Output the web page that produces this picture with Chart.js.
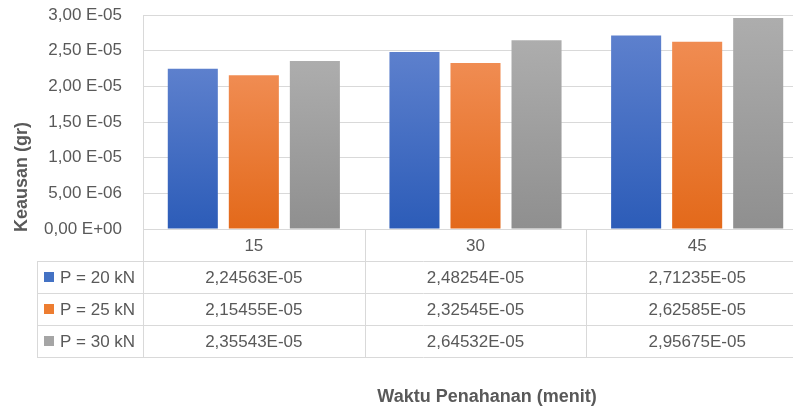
<!DOCTYPE html>
<html>
<head>
<meta charset="utf-8">
<script src="https://cdn.jsdelivr.net/npm/chart.js@4.4.1/dist/chart.umd.min.js"></script>
<style>
  html, body { margin: 0; padding: 0; background: #fff; overflow: hidden; }
  #wrap { width: 793px; height: 408px; overflow: hidden; }
  canvas { display: block; }
</style>
</head>
<body>
<div id="wrap"><canvas id="chart" width="810" height="408"></canvas></div>
<script>
// data
const categories = ['15', '30', '45'];
const seriesNames = ['P = 20 kN', 'P = 25 kN', 'P = 30 kN'];
const p20 = [2.24563e-5, 2.48254e-5, 2.71235e-5];
const p25 = [2.15455e-5, 2.32545e-5, 2.62585e-5];
const p30 = [2.35543e-5, 2.64532e-5, 2.95675e-5];
const yTickLabels = ['0,00 E+00', '5,00 E-06', '1,00 E-05', '1,50 E-05', '2,00 E-05', '2,50 E-05', '3,00 E-05'];
const xTitle = 'Waktu Penahanan (menit)';
const yTitle = 'Keausan (gr)';

const FONT = "'Liberation Sans', Arial, sans-serif";
const TEXT = '#595959';
const LINE = '#d9d9d9';

// Excel-like vertical gradient per bar
function barFill(top, bottom) {
  return (ctx) => {
    const chart = ctx.chart;
    if (!chart.chartArea || ctx.raw == null) return bottom;
    const y = chart.scales.y;
    const g = chart.ctx.createLinearGradient(0, y.getPixelForValue(ctx.raw), 0, y.getPixelForValue(0));
    g.addColorStop(0, top);
    g.addColorStop(1, bottom);
    return g;
  };
}

const swatches = ['#4472c4', '#ed7d31', '#a5a5a5'];

function fmtValue(v) {
  return (v * 1e5).toFixed(5).replace('.', ',') + 'E-05';
}

// data table + axis titles under the plot
const tablePlugin = {
  id: 'dataTable',
  afterDraw(chart) {
    const { ctx, chartArea } = chart;
    const x = chart.scales.x;
    const half = (x.getPixelForValue(1) - x.getPixelForValue(0)) / 2;
    const edges = [0, 1, 2, 3].map(i => x.getPixelForValue(i) - half);
    const top = chartArea.bottom;
    const rowH = 32;
    const legendLeft = 37;
    const rows = [p20, p25, p30];

    ctx.save();
    ctx.strokeStyle = LINE;
    ctx.lineWidth = 1;
    ctx.beginPath();
    for (let k = 1; k <= 4; k++) {
      const yy = Math.round(top + k * rowH) + 0.5;
      ctx.moveTo(legendLeft, yy);
      ctx.lineTo(chart.width, yy);
    }
    ctx.moveTo(legendLeft + 0.5, top + rowH);
    ctx.lineTo(legendLeft + 0.5, top + 4 * rowH);
    edges.forEach(e => {
      const xx = Math.round(e) + 0.5;
      ctx.moveTo(xx, top);
      ctx.lineTo(xx, top + 4 * rowH);
    });
    ctx.stroke();

    ctx.fillStyle = TEXT;
    ctx.font = '17px ' + FONT;
    ctx.textAlign = 'center';
    ctx.textBaseline = 'middle';
    categories.forEach((c, i) => {
      ctx.fillText(c, x.getPixelForValue(i), top + rowH / 2 + 1);
    });
    rows.forEach((vals, r) => {
      const cy = top + (r + 1.5) * rowH + 1;
      vals.forEach((v, i) => {
        ctx.fillText(fmtValue(v), x.getPixelForValue(i), cy);
      });
    });

    // legend keys in the first column
    ctx.textAlign = 'left';
    seriesNames.forEach((name, r) => {
      const cy = top + (r + 1.5) * rowH;
      ctx.fillStyle = swatches[r];
      ctx.fillRect(44, cy - 5, 10, 10);
      ctx.fillStyle = TEXT;
      ctx.fillText(name, 60, cy + 1);
    });

    // axis titles
    ctx.font = 'bold 18px ' + FONT;
    ctx.textAlign = 'center';
    ctx.fillText(xTitle, 487, 397);
    ctx.translate(22, 177);
    ctx.rotate(-Math.PI / 2);
    ctx.fillText(yTitle, 0, 0);
    ctx.restore();
  }
};

new Chart(document.getElementById('chart'), {
  type: 'bar',
  data: {
    labels: categories,
    datasets: [
      { label: seriesNames[0], data: p20, backgroundColor: barFill('#5d80cd', '#2c5cb8') },
      { label: seriesNames[1], data: p25, backgroundColor: barFill('#f08c52', '#e3691a') },
      { label: seriesNames[2], data: p30, backgroundColor: barFill('#adadad', '#8f8f8f') }
    ]
  },
  options: {
    responsive: false,
    animation: false,
    devicePixelRatio: 1,
    categoryPercentage: 0.826,
    barPercentage: 0.82,
    layout: { padding: { top: 15, left: 0, right: 2, bottom: 0 } },
    plugins: {
      legend: { display: false },
      tooltip: { enabled: false }
    },
    scales: {
      x: {
        grid: { display: false },
        border: { display: false },
        ticks: { display: false },
        afterFit(scale) { scale.height = 179; }
      },
      y: {
        min: 0,
        max: 3e-5,
        ticks: {
          stepSize: 5e-6,
          padding: 21,
          color: TEXT,
          font: { family: FONT, size: 17 },
          callback: (v, i) => yTickLabels[i]
        },
        grid: { color: LINE, drawTicks: false },
        border: { display: true, color: LINE },
        afterFit(scale) {
          scale.width = 143;
          scale.paddingTop = 0;
          scale.paddingBottom = 0;
        }
      }
    }
  },
  plugins: [tablePlugin]
});
</script>
</body>
</html>
